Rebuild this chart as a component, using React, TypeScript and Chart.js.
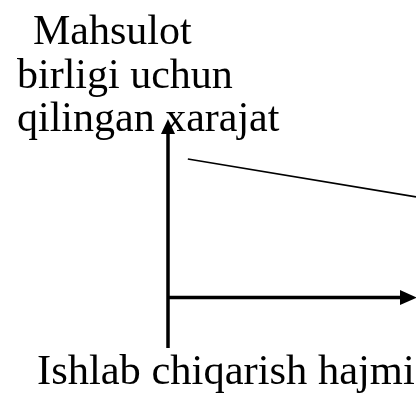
import React, { useEffect, useRef } from "react";
import { Chart, registerables } from "chart.js";

Chart.register(...registerables);

// Data: production volume vs. unit cost (decreasing)
const volume: number[] = [0.8, 10];
const unitCost: number[] = [6.05, 4.4];
const yTitleLines: string[] = ["Mahsulot", "birligi uchun", "qilingan xarajat"];
const xTitle: string = "Ishlab chiqarish hajmi";

const TOP_FONT = "42px 'Liberation Serif', 'Times New Roman', serif";
const BOTTOM_FONT = "42.5px 'Liberation Serif', 'Times New Roman', serif";

const titlesPlugin = {
  id: "titlesPlugin",
  beforeDatasetsDraw(chart: any) {
    const { ctx } = chart;
    ctx.save();
    ctx.fillStyle = "#000";
    ctx.textAlign = "left";
    ctx.textBaseline = "alphabetic";
    ctx.font = TOP_FONT;
    const xs = [33, 17, 17];
    const ys = [44, 88, 131];
    yTitleLines.forEach((t, i) => ctx.fillText(t, xs[i], ys[i]));
    ctx.font = BOTTOM_FONT;
    ctx.fillText(xTitle, 37, 384);
    ctx.restore();
  },
};

const arrowAxesPlugin = {
  id: "arrowAxes",
  afterDatasetsDraw(chart: any) {
    const { ctx, chartArea, scales } = chart;
    const x0 = scales.x.getPixelForValue(0);
    const y0 = scales.y.getPixelForValue(0);
    ctx.save();
    ctx.strokeStyle = "#000";
    ctx.fillStyle = "#000";
    ctx.lineWidth = 3.5;
    // vertical axis
    const headL = 15;
    const headW = 7;
    ctx.beginPath();
    ctx.moveTo(x0, chartArea.bottom);
    ctx.lineTo(x0, chartArea.top + headL - 1);
    ctx.stroke();
    ctx.beginPath();
    ctx.moveTo(x0, chartArea.top);
    ctx.lineTo(x0 - headW, chartArea.top + headL);
    ctx.lineTo(x0 + headW, chartArea.top + headL);
    ctx.closePath();
    ctx.fill();
    // horizontal axis
    const right = chartArea.right;
    ctx.beginPath();
    ctx.moveTo(x0, y0);
    ctx.lineTo(right - 16, y0);
    ctx.stroke();
    ctx.beginPath();
    ctx.moveTo(right + 1, y0);
    ctx.lineTo(right - 16, y0 - 7.5);
    ctx.lineTo(right - 16, y0 + 7.5);
    ctx.closePath();
    ctx.fill();
    ctx.restore();
  },
};

export default function App() {
  const ref = useRef<HTMLCanvasElement | null>(null);
  useEffect(() => {
    if (!ref.current) return;
    const chart = new Chart(ref.current, {
      type: "line",
      data: {
        datasets: [
          {
            data: volume.map((v, i) => ({ x: v, y: unitCost[i] })),
            borderColor: "#000",
            borderWidth: 1.6,
            pointRadius: 0,
            fill: false,
            clip: false as any,
          },
        ],
      },
      options: {
        animation: false,
        responsive: false,
        events: [],
        layout: { padding: { left: 168, right: 0, top: 119, bottom: 46 } },
        plugins: {
          legend: { display: false },
          tooltip: { enabled: false },
          title: { display: false },
        },
        scales: {
          x: { type: "linear", min: 0, max: 10, display: false },
          y: { type: "linear", min: -2.2, max: 7.8, display: false },
        },
      },
      plugins: [titlesPlugin, arrowAxesPlugin],
    });
    return () => chart.destroy();
  }, []);
  return (
    <div style={{ position: "absolute", left: 0, top: 0, width: 416, height: 394, background: "#fff" }}>
      <canvas ref={ref} width={416} height={394} style={{ display: "block" }} />
    </div>
  );
}
